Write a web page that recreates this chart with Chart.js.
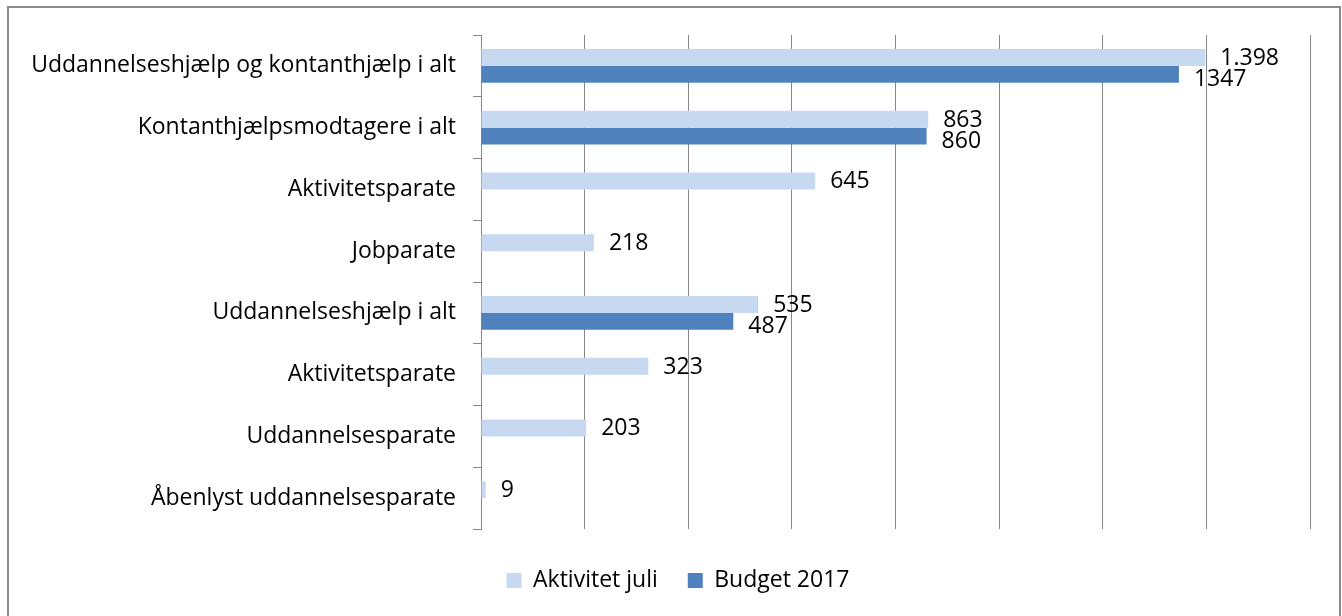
<!DOCTYPE html>
<html>
<head>
<meta charset="utf-8">
<script src="https://cdn.jsdelivr.net/npm/chart.js@4"></script>
<style>
  html, body { margin: 0; padding: 0; background: #fff; overflow: hidden; }
  #wrap { position: relative; width: 1342px; height: 616px; }
  #frame { position: absolute; left: 7px; top: 6px; width: 1330px; height: 640px;
           border: 2px solid #898989; box-sizing: content-box; pointer-events: none; }
  canvas { position: absolute; left: 0; top: 0; }
</style>
</head>
<body>
<div id="wrap">
  <canvas id="c" width="1342" height="616"></canvas>
  <div id="frame"></div>
</div>
<script>
var categories = [
  "Uddannelseshjælp og kontanthjælp i alt",
  "Kontanthjælpsmodtagere i alt",
  "Aktivitetsparate",
  "Jobparate",
  "Uddannelseshjælp i alt",
  "Aktivitetsparate",
  "Uddannelsesparate",
  "Åbenlyst uddannelsesparate"
];
var aktivitetJuli = [1398, 863, 645, 218, 535, 323, 203, 9];
var budget2017 = [1347, 860, null, null, 487, null, null, null];
var seriesNames = ["Aktivitet juli", "Budget 2017"];
var xTicks = [0, 200, 400, 600, 800, 1000, 1200, 1400, 1600];

var FONT = "'Open Sans'";
var FSIZE = 23;
var GRID = "#878787";
var LEG_PAD = 30;
var LEG_SHIFT = 23;

// data labels right of each bar; Budget labels sit a bit lower
var valueLabels = {
  id: "valueLabels",
  afterDatasetsDraw: function(chart) {
    var ctx = chart.ctx;
    ctx.save();
    ctx.font = FSIZE + "px " + FONT;
    ctx.fillStyle = "#000";
    ctx.textAlign = "left";
    ctx.textBaseline = "middle";
    chart.data.datasets.forEach(function(ds, i) {
      var meta = chart.getDatasetMeta(i);
      meta.data.forEach(function(bar, j) {
        var v = ds.data[j];
        if (v === null) return;
        var txt = i === 0 ? v.toLocaleString("da-DK") : String(v);
        ctx.fillText(txt, bar.x + 15, bar.y + (i === 0 ? 1 : 5));
      });
    });
    ctx.restore();
  }
};

// nudge the legend a bit right, like the original
var legendShift = {
  id: "legendShift",
  afterLayout: function(chart) {
    if (!chart.legend) return;
    chart.legend.left += LEG_SHIFT;
    chart.legend.right += LEG_SHIFT;
  }
};

new Chart(document.getElementById("c"), {
  type: "bar",
  data: {
    labels: categories,
    datasets: [
      { label: seriesNames[0], data: aktivitetJuli, backgroundColor: "#C6D9F1" },
      { label: seriesNames[1], data: budget2017, backgroundColor: "#4F81BD" }
    ]
  },
  options: {
    indexAxis: "y",
    responsive: false,
    animation: false,
    categoryPercentage: 0.55,
    barPercentage: 1,
    layout: { padding: { left: 0, top: 35, right: 32, bottom: 14 } },
    scales: {
      x: {
        min: 0, max: 1600,
        afterBuildTicks: function(scale) {
          scale.ticks = xTicks.map(function(v) { return { value: v }; });
        },
        afterFit: function(scale) { scale.height = 40 - LEG_PAD; },
        ticks: { display: false },
        grid: { color: GRID, lineWidth: 1, drawTicks: false },
        border: { display: false }
      },
      y: {
        afterFit: function(scale) { scale.width = 481; },
        ticks: { color: "#000", font: { family: FONT, size: FSIZE }, padding: 17 },
        grid: { drawOnChartArea: false, drawTicks: true, tickLength: 8, color: GRID, offset: true },
        border: { display: true, color: GRID, width: 1 }
      }
    },
    plugins: {
      legend: {
        position: "bottom",
        labels: {
          boxWidth: 15, boxHeight: 15, padding: LEG_PAD,
          color: "#000", font: { family: FONT, size: FSIZE }
        }
      },
      tooltip: { enabled: false }
    }
  },
  plugins: [valueLabels, legendShift]
});
</script>
</body>
</html>
